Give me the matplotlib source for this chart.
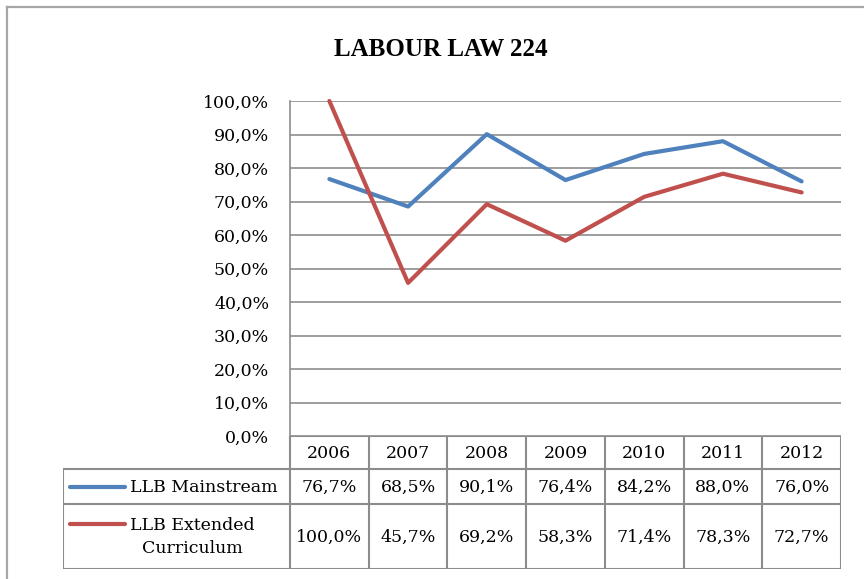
import numpy as np
import matplotlib
matplotlib.use("Agg")
import matplotlib.pyplot as plt
from matplotlib.ticker import FuncFormatter, MultipleLocator

years = ["2006", "2007", "2008", "2009", "2010", "2011", "2012"]
mainstream = [76.7, 68.5, 90.1, 76.4, 84.2, 88.0, 76.0]
extended = [100.0, 45.7, 69.2, 58.3, 71.4, 78.3, 72.7]
series_names = ["LLB Mainstream", "LLB Extended\nCurriculum"]
series_colors = ["#4F81BD", "#C0504D"]
title = "LABOUR LAW 224"

W, H = 864, 579
grid_c = "#8C8C8C"
fs = 12.5
plt.rcParams['font.family'] = ['DejaVu Serif']

def pct(v, pos=None):
    return "{:.1f}%".format(v).replace(".", ",")

def fx(px):
    return px / W

def fy(py):
    return 1 - py / H

fig = plt.figure(figsize=(W / 100, H / 100), dpi=100)

# outer chart border (cut off on the right and bottom)
fig.add_artist(plt.Line2D([fx(7), 1.0], [fy(7), fy(7)], color="#A6A6A6", lw=1.6))
fig.add_artist(plt.Line2D([fx(7), fx(7)], [fy(7), 0.0], color="#A6A6A6", lw=1.6))

fig.text(fx(441), fy(49), title, ha="center", va="center",
         fontsize=18, weight="bold", family=["Liberation Serif", "DejaVu Serif"])

left, right, top, bottom = 290, 841, 101, 436
ax = fig.add_axes([fx(left), fy(bottom), fx(right - left), (bottom - top) / H])
x = np.arange(len(years)) + 0.5
ax.plot(x, mainstream, color=series_colors[0], lw=3.0, solid_capstyle="round", clip_on=False, zorder=3)
ax.plot(x, extended, color=series_colors[1], lw=3.0, solid_capstyle="round", clip_on=False, zorder=3)
ax.set_xlim(0, len(years))
ax.set_ylim(0, 100)
ax.yaxis.set_major_locator(MultipleLocator(10))
ax.yaxis.set_major_formatter(FuncFormatter(pct))
ax.set_xticks([])
ax.tick_params(axis="y", length=0, pad=15, labelsize=fs)
ax.grid(axis="y", color=grid_c, lw=1.2)
ax.set_axisbelow(True)
for s in ["top", "right", "bottom"]:
    ax.spines[s].set_visible(False)
ax.spines["left"].set_color(grid_c)
ax.spines["left"].set_linewidth(1.2)

# data table under the plot
tleft, tbottom = 63, 569
colw = (right - left) / len(years)
tax = fig.add_axes([fx(tleft), fy(tbottom), fx(right - tleft), (tbottom - bottom) / H])
tax.set_xlim(-(left - tleft) / colw, len(years))
tax.set_ylim(tbottom - bottom, 0)
tax.axis("off")
rows = [0, 33, 68, 133]
x0 = -(left - tleft) / colw
lk = dict(color=grid_c, lw=1.5, solid_capstyle="projecting")
# horizontal lines
tax.plot([0, len(years)], [rows[0], rows[0]], **lk)
for r in rows[1:]:
    tax.plot([x0, len(years)], [r, r], **lk)
# vertical lines
tax.plot([x0, x0], [rows[1], rows[3]], **lk)
for i in range(len(years) + 1):
    tax.plot([i, i], [rows[0], rows[3]], **lk)

for i, yr in enumerate(years):
    tax.text(i + 0.5, (rows[0] + rows[1]) / 2 + 1, yr, ha="center", va="center", fontsize=fs)
    tax.text(i + 0.5, (rows[1] + rows[2]) / 2 + 1, pct(mainstream[i]), ha="center", va="center", fontsize=fs)
    tax.text(i + 0.5, (rows[2] + rows[3]) / 2 + 1, pct(extended[i]), ha="center", va="center", fontsize=fs)

# row labels with legend keys
sw0, sw1 = x0 + 7 / colw, x0 + 62 / colw
tax.plot([sw0, sw1], [51, 51], color=series_colors[0], lw=3.0, solid_capstyle="round")
tax.text(x0 + 67 / colw, 51, series_names[0], ha="left", va="center", fontsize=fs)
tax.plot([sw0, sw1], [88, 88], color=series_colors[1], lw=3.0, solid_capstyle="round")
tax.text(x0 + 129 / colw, 101, series_names[1], ha="center", va="center",
         fontsize=fs, multialignment="center", linespacing=1.5)

fig.savefig("out.png", dpi=100)
